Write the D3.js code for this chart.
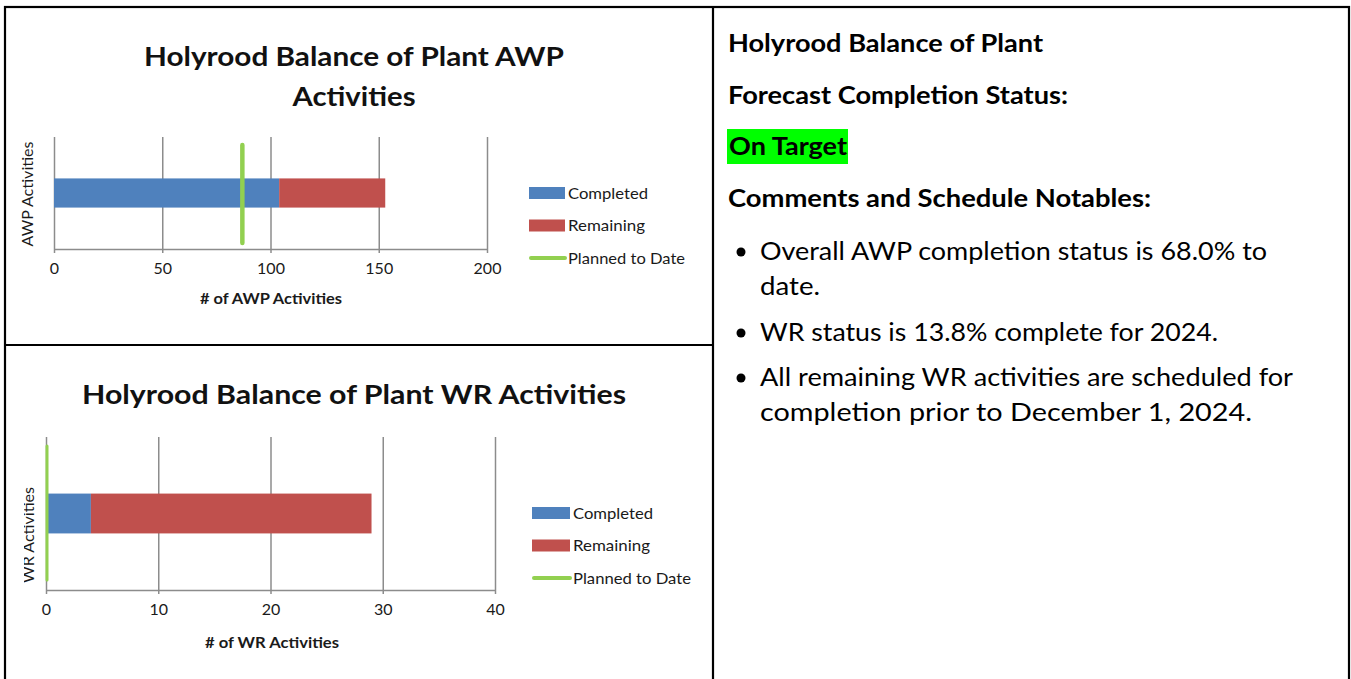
<!DOCTYPE html>
<html>
<head>
<meta charset="utf-8">
<script src="https://cdn.jsdelivr.net/npm/d3@7"></script>
<style>
  body { margin: 0; background: #fff; }
  svg { display: block; font-family: Lato, "Open Sans", sans-serif; }
</style>
</head>
<body>
<svg id="page" width="1351" height="679"></svg>
<script>
// series and categories
const seriesNames = ["Completed", "Remaining", "Planned to Date"];
const seriesColors = ["#4F81BD", "#C0504D", "#92D050"];

const awpCategories = ["AWP Activities"];
const awpCompleted = [104];
const awpRemaining = [49];
const awpPlanned = [87];
const awpTicks = [0, 50, 100, 150, 200];

const wrCategories = ["WR Activities"];
const wrCompleted = [4];
const wrRemaining = [25];
const wrPlanned = [0];
const wrTicks = [0, 10, 20, 30, 40];

const statusHeading = ["Holyrood Balance of Plant", "Forecast Completion Status:"];
const statusValue = "On Target";
const notesHeading = "Comments and Schedule Notables:";
const notes = [
  ["Overall AWP completion status is 68.0% to", "date."],
  ["WR status is 13.8% complete for 2024."],
  ["All remaining WR activities are scheduled for", "completion prior to December 1, 2024."]
];

const svg = d3.select("#page");
svg.append("rect").attr("width", 1351).attr("height", 679).attr("fill", "#fff");

function fit(sel, w) {
  sel.attr("textLength", w).attr("lengthAdjust", "spacingAndGlyphs");
  return sel;
}

function drawChart(cfg) {
  const g = svg.append("g");
  const x = d3.scaleLinear().domain([0, cfg.ticks[cfg.ticks.length - 1]]).range([cfg.x0, cfg.x1]);
  const y = d3.scaleBand().domain(cfg.categories).range([cfg.top, cfg.bottom])
    .paddingInner(0).paddingOuter(1.42);

  // title
  cfg.title.forEach((t, i) => {
    fit(g.append("text")
      .attr("x", cfg.titleX).attr("y", cfg.titleY + i * 40)
      .attr("text-anchor", "middle")
      .attr("font-size", 26).attr("font-weight", "bold").attr("fill", "#111")
      .text(t), cfg.titleW[i]);
  });

  // gridlines
  g.append("g")
    .attr("transform", `translate(0,${cfg.bottom})`)
    .call(d3.axisBottom(x).tickValues(cfg.ticks).tickSize(-(cfg.bottom - cfg.top)).tickFormat(""))
    .call(s => s.select(".domain").remove())
    .call(s => s.selectAll(".tick line").attr("stroke", "#8c8c8c").attr("stroke-width", 1.5));

  // axis with tick marks + labels
  g.append("g")
    .attr("transform", `translate(0,${cfg.bottom})`)
    .call(d3.axisBottom(x).tickValues(cfg.ticks).tickSize(4).tickSizeOuter(0).tickPadding(10))
    .call(s => s.select(".domain").attr("stroke", "#8c8c8c").attr("stroke-width", 1.5))
    .call(s => s.selectAll(".tick line").attr("stroke", "#8c8c8c").attr("stroke-width", 1.5))
    .call(s => s.selectAll(".tick text")
      .attr("font-size", 16).attr("font-family", "Lato, sans-serif").attr("fill", "#1a1a1a"));

  // stacked bars
  const rows = cfg.categories.map((c, i) => ({ cat: c, completed: cfg.completed[i], remaining: cfg.remaining[i] }));
  const stack = d3.stack().keys(["completed", "remaining"])(rows);
  g.append("g").selectAll("g")
    .data(stack).enter().append("g")
    .attr("fill", (d, i) => seriesColors[i])
    .selectAll("rect").data(d => d).enter().append("rect")
    .attr("x", d => x(d[0]))
    .attr("width", d => x(d[1]) - x(d[0]))
    .attr("y", d => y(d.data.cat))
    .attr("height", y.bandwidth());

  // planned to date line
  g.append("g").selectAll("line")
    .data(cfg.planned).enter().append("line")
    .attr("x1", d => x(d) + (d === 0 ? 1 : 0)).attr("x2", d => x(d) + (d === 0 ? 1 : 0))
    .attr("y1", cfg.top + cfg.lineInset[0]).attr("y2", cfg.bottom - cfg.lineInset[1])
    .attr("stroke", seriesColors[2]).attr("stroke-width", cfg.lineW)
    .attr("stroke-linecap", "round");

  // axis titles
  fit(g.append("text")
    .attr("x", cfg.xTitleX).attr("y", cfg.xTitleY)
    .attr("text-anchor", "middle").attr("font-size", 16).attr("font-weight", "bold").attr("fill", "#1a1a1a")
    .text(cfg.xTitle), cfg.xTitleW);

  const clipId = "clip" + cfg.id;
  svg.append("clipPath").attr("id", clipId)
    .append("rect").attr("x", cfg.yClip).attr("y", 0).attr("width", 100).attr("height", 679);
  fit(g.append("g").attr("clip-path", `url(#${clipId})`)
    .append("text")
    .attr("transform", `translate(${cfg.yTitleX},${cfg.yTitleY}) rotate(-90)`)
    .attr("text-anchor", "middle").attr("font-size", 16).attr("fill", "#1a1a1a")
    .text(cfg.categories[0]), cfg.yTitleW);

  // legend
  const leg = g.append("g").selectAll("g")
    .data(seriesNames).enter().append("g")
    .attr("transform", (d, i) => `translate(${cfg.legX},${cfg.legY + i * 32.5})`);
  leg.filter((d, i) => i < 2).append("rect")
    .attr("x", 0).attr("y", -6).attr("width", cfg.legSw).attr("height", 12)
    .attr("fill", (d, i) => seriesColors[i]);
  leg.filter((d, i) => i === 2).append("line")
    .attr("x1", 2).attr("x2", cfg.legSw).attr("y1", 0).attr("y2", 0)
    .attr("stroke", seriesColors[2]).attr("stroke-width", 4).attr("stroke-linecap", "round");
  leg.append("text")
    .attr("x", cfg.legSw + 3).attr("y", 5.5)
    .attr("font-size", 16).attr("fill", "#1a1a1a")
    .text(d => d)
    .each(function (d, i) { fit(d3.select(this), cfg.legW[i]); });
}

drawChart({
  id: "awp",
  title: ["Holyrood Balance of Plant AWP", "Activities"], titleX: 354, titleY: 66, titleW: [420, 123],
  categories: awpCategories, completed: awpCompleted, remaining: awpRemaining, planned: awpPlanned,
  ticks: awpTicks, x0: 54, x1: 487, top: 137, bottom: 249,
  lineInset: [8, 6], lineW: 4.5,
  xTitle: "# of AWP Activities", xTitleX: 271, xTitleY: 304, xTitleW: 142,
  yTitleX: 33, yTitleY: 194, yTitleW: 105, yClip: 0,
  legX: 529, legY: 193, legSw: 36, legW: [80, 77, 117]
});

drawChart({
  id: "wr",
  title: ["Holyrood Balance of Plant WR Activities"], titleX: 354, titleY: 404, titleW: [544],
  categories: wrCategories, completed: wrCompleted, remaining: wrRemaining, planned: wrPlanned,
  ticks: wrTicks, x0: 46, x1: 495, top: 437, bottom: 590,
  lineInset: [9, 10], lineW: 3,
  xTitle: "# of WR Activities", xTitleX: 272, xTitleY: 648, xTitleW: 134,
  yTitleX: 34, yTitleY: 535, yTitleW: 96, yClip: 24,
  legX: 532, legY: 513, legSw: 38, legW: [80, 77, 118]
});

// right panel
const rp = svg.append("g");
statusHeading.forEach((t, i) => {
  fit(rp.append("text").attr("x", 728).attr("y", [52, 104][i])
    .attr("font-size", 24).attr("font-weight", "bold").attr("fill", "#000").text(t), [315, 340][i]);
});
rp.append("rect").attr("x", 727).attr("y", 129).attr("width", 121).attr("height", 35).attr("fill", "#00FF00");
fit(rp.append("text").attr("x", 729).attr("y", 155)
  .attr("font-size", 24).attr("font-weight", "bold").attr("fill", "#000").text(statusValue), 118);
fit(rp.append("text").attr("x", 728).attr("y", 207)
  .attr("font-size", 24).attr("font-weight", "bold").attr("fill", "#000").text(notesHeading), 423);

const noteBase = [260, 341, 386];
const noteW = [[507, 60], [458], [533, 492]];
notes.forEach((lines, i) => {
  rp.append("circle").attr("cx", 741).attr("cy", noteBase[i] - 8).attr("r", 4.5).attr("fill", "#000");
  lines.forEach((t, j) => {
    fit(rp.append("text").attr("x", 760).attr("y", noteBase[i] + j * 35)
      .attr("font-size", 25).attr("fill", "#000").text(t), noteW[i][j]);
  });
});

// table borders
const bw = 2.2;
svg.append("rect").attr("x", 5).attr("y", 7).attr("width", 1344).attr("height", 700)
  .attr("fill", "none").attr("stroke", "#000").attr("stroke-width", bw);
svg.append("line").attr("x1", 713).attr("x2", 713).attr("y1", 7).attr("y2", 679)
  .attr("stroke", "#000").attr("stroke-width", bw);
svg.append("line").attr("x1", 5).attr("x2", 713).attr("y1", 345).attr("y2", 345)
  .attr("stroke", "#000").attr("stroke-width", bw);
</script>
</body>
</html>
